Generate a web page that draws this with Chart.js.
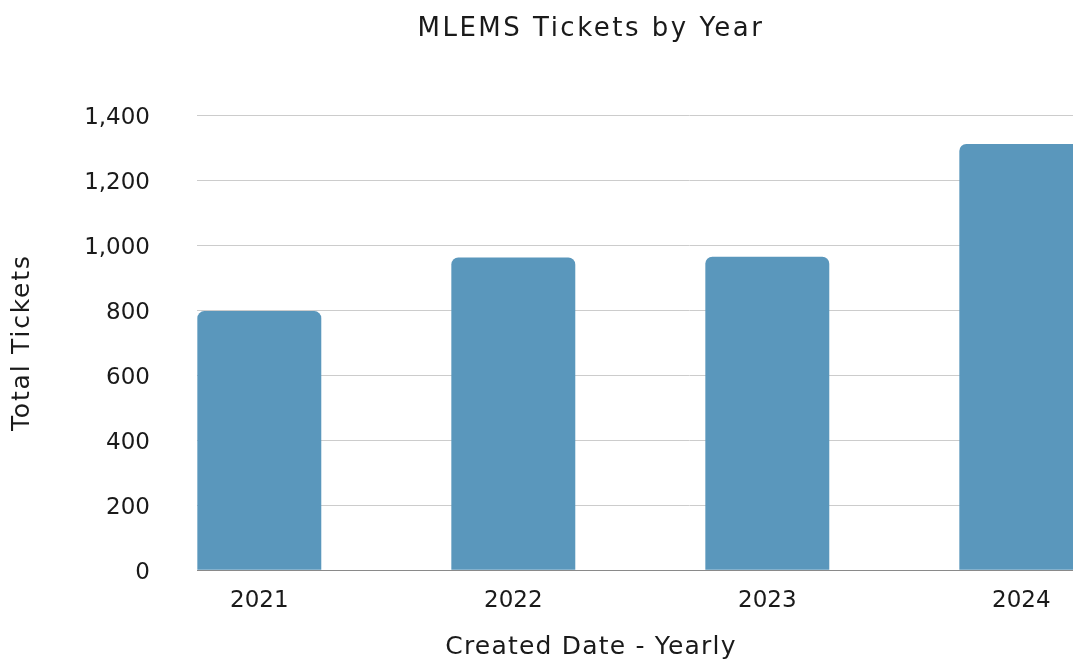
<!DOCTYPE html>
<html>
<head>
<meta charset="utf-8">
<title>MLEMS Tickets by Year</title>
<script src="https://cdn.jsdelivr.net/npm/chart.js@4.4.1/dist/chart.umd.min.js"></script>
<style>
  html, body { margin: 0; padding: 0; background: #ffffff; overflow: hidden; }
  #wrap { width: 1073px; height: 660px; overflow: hidden; }
  canvas { display: block; }
</style>
</head>
<body>
<div id="wrap">
  <canvas id="chart" width="1182" height="680"></canvas>
</div>
<script>
// Yearly ticket totals
const years = ['2021', '2022', '2023', '2024'];
const tickets = [797, 962, 964, 1311];

// Y axis range and step
const yMin = 0;
const yMax = 1400;
const yStep = 200;

const FONT = '"DejaVu Sans", "Open Sans", sans-serif';
const TEXT = '#1a1a1a';

const CHART_TITLE = 'MLEMS Tickets by Year';
const X_TITLE = 'Created Date - Yearly';
const Y_TITLE = 'Total Tickets';

// Extra tracking for the wide title lettering
const SPACING = {
  [CHART_TITLE]: '2.5px',
  [X_TITLE]: '1.2px',
  [Y_TITLE]: '1.8px'
};

// Year index positions on a linear x axis so the first bar sits flush with the plot edge
const points = years.map((y, i) => ({ x: i, y: tickets[i] }));

function withSpacing(ctx, spacing, fn) {
  const prev = ctx.letterSpacing;
  ctx.letterSpacing = spacing;
  fn();
  ctx.letterSpacing = prev || '0px';
}

const letterSpacingPlugin = {
  id: 'letterSpacing',
  afterUpdate(chart) {
    Object.values(chart.scales).forEach((scale) => {
      const sp = SPACING[scale.options.title && scale.options.title.text];
      if (scale.$spaced || !sp) return;
      const drawTitle = scale.drawTitle.bind(scale);
      scale.drawTitle = () => withSpacing(scale.ctx, sp, drawTitle);
      scale.$spaced = true;
    });
    chart.boxes.forEach((box) => {
      if (box.$spaced || box.isHorizontal === undefined || !box.options) return;
      const sp = SPACING[box.options.text];
      if (!sp || box.getPixelForValue) return;
      const draw = box.draw.bind(box);
      box.draw = (...args) => withSpacing(chart.ctx, sp, () => draw(...args));
      box.$spaced = true;
    });
  }
};

new Chart(document.getElementById('chart'), {
  type: 'bar',
  data: {
    datasets: [{
      label: 'Total Tickets',
      data: points,
      backgroundColor: '#5a97bc',
      borderWidth: 0,
      borderRadius: 7,
      categoryPercentage: 0.488,
      barPercentage: 1
    }]
  },
  plugins: [letterSpacingPlugin],
  options: {
    responsive: false,
    animation: false,
    devicePixelRatio: 1,
    layout: { padding: 0 },
    plugins: {
      legend: { display: false },
      tooltip: { enabled: false },
      title: {
        display: true,
        text: CHART_TITLE,
        color: TEXT,
        font: { family: FONT, size: 26, weight: 'normal', lineHeight: 1.2 },
        padding: { top: 14, bottom: 69.8 }
      },
      // x axis caption, centred across the whole figure
      subtitle: {
        display: true,
        position: 'bottom',
        text: X_TITLE,
        color: TEXT,
        font: { family: FONT, size: 25, weight: 'normal', lineHeight: 1.2 },
        padding: { top: 11.7, bottom: 18 }
      }
    },
    scales: {
      x: {
        type: 'linear',
        offset: false,
        min: -0.2453,
        max: -0.2453 + 985 / 254,
        afterBuildTicks: (scale) => {
          scale.ticks = years.map((_, i) => ({ value: i }));
        },
        afterFit: (scale) => { scale.height = 50; },
        grid: { display: false, drawTicks: false, offset: false },
        border: { display: true, color: '#8a8a8a', width: 1 },
        ticks: {
          color: TEXT,
          padding: 17,
          maxRotation: 0,
          autoSkip: false,
          font: { family: FONT, size: 23 },
          callback: (v) => years[v] ?? ''
        }
      },
      y: {
        min: yMin,
        max: yMax,
        afterFit: (scale) => { scale.width = 197; },
        grid: { color: '#cccccc', lineWidth: 1, drawTicks: false },
        border: { display: false },
        ticks: {
          stepSize: yStep,
          color: TEXT,
          padding: 47,
          labelOffset: 3,
          font: { family: FONT, size: 23 },
          callback: (v) => v.toLocaleString('en-US')
        },
        title: {
          display: true,
          text: Y_TITLE,
          color: TEXT,
          font: { family: FONT, size: 25, lineHeight: 1.2 },
          padding: { top: 7, bottom: 0 }
        }
      }
    }
  }
});
</script>
</body>
</html>
